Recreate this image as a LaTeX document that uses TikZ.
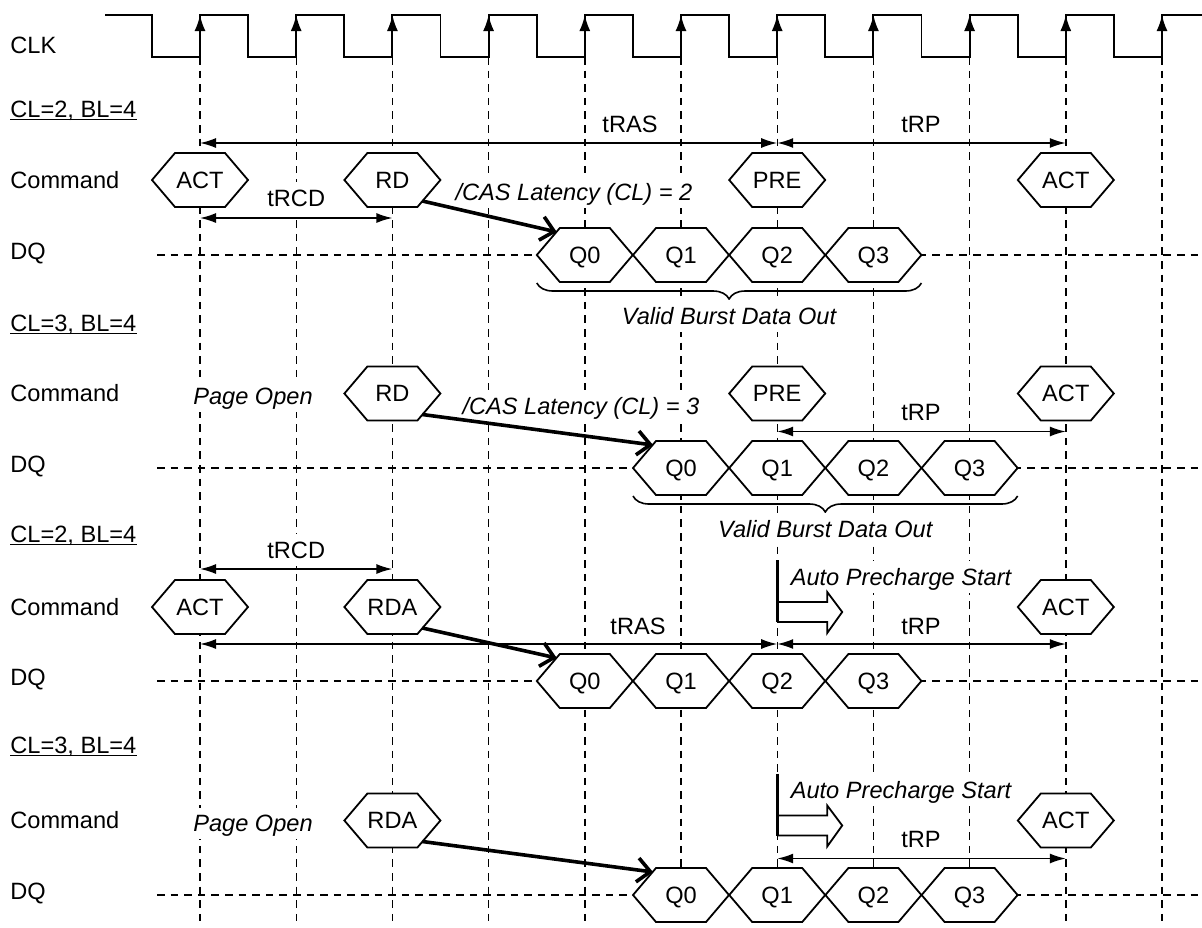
\documentclass[tikz,border=0pt]{standalone}
\usepackage{fontspec}
\setmainfont{Liberation Sans}
\usetikzlibrary{arrows.meta,calc,decorations.pathreplacing}

\newcommand\hexn[4]{% name, x, y, text
  \draw[hexline] (#2-48,#3) -- (#2-25,#3-27) -- (#2+25,#3-27) -- (#2+48,#3) -- (#2+25,#3+27) -- (#2-25,#3+27) -- cycle;
  \node[hextext] (#1) at (#2,#3) {#4};
}
\newcommand\apcs[2]{% x, command row y
  \draw[hexline] (#1,#2-5) -- (#1+50,#2-5) -- (#1+50,#2-15) -- (#1+65,#2+5) -- (#1+50,#2+26) -- (#1+50,#2+15) -- (#1,#2+15);
  \draw[line width=1.7pt] (#1,#2-47) -- (#1,#2+15);
}

\begin{document}
\begin{tikzpicture}[x=0.5pt,y=-0.5pt,
  font=\fontsize{11.8}{14}\selectfont,
  clk/.style={line width=0.95pt},
  grid/.style={line width=0.7pt, dash pattern=on 3.8pt off 3pt},
  hexline/.style={line width=0.9pt, fill=white, line join=miter},
  hextext/.style={inner sep=0pt, text height=10.5pt, text depth=2.1pt},
  lbl/.style={anchor=west, inner sep=0pt, text height=10.5pt, text depth=2.1pt},
  tlbl/.style={inner sep=1.5pt, fill=white, text height=10.5pt, text depth=2.1pt},
  ilbl/.style={tlbl, font=\fontsize{11.8}{14}\selectfont\itshape},
  uline/.style={line width=0.85pt},
  dim/.style={line width=0.8pt, {Latex[length=8pt,width=5pt]}-{Latex[length=8pt,width=5pt]}},
  lat/.style={line width=1.8pt, -{Straight Barb[length=6.5pt,width=12pt]}},
  brc/.style={line width=0.8pt, decorate, decoration={brace, mirror, amplitude=8pt}}
]
\useasboundingbox (0,0) rectangle (1202,927);

% timing grid
\foreach \i in {0,...,10} \draw[grid] ({200+96.2*\i},57) -- ({200+96.2*\i},923);
\foreach \y in {255,468,681,895} \draw[grid] (157,\y) -- (1202,\y);

% clock
\node[lbl] (clk) at (10,45) {CLK};
\draw[clk] (105,15) -- (151.9,15) -- (151.9,57)
  \foreach \i in {0,...,9}{ -- ({200+96.2*\i},57) -- ({200+96.2*\i},15) -- ({248.1+96.2*\i},15) -- ({248.1+96.2*\i},57) }
  -- (1162,57) -- (1162,15) -- (1202,15);
\foreach \i in {0,...,10} \draw[clk,-{Latex[length=8pt,width=5.5pt]}] ({200+96.2*\i},40) -- ({200+96.2*\i},15);

% ---------- section 1 ----------
\node[lbl] (s1) at (10,109) {CL=2, BL=4};
\draw[uline] ($(s1.base west)+(0,2)$) -- ($(s1.base east)+(0,2)$);
\node[lbl] (cmd1) at (10,180) {Command};
\node[lbl] (dq1) at (10,251) {DQ};
\coordinate (t1a) at (200,143);
\coordinate (t1b) at (777.2,143);
\coordinate (t1c) at (1065.8,143);
\draw[dim] (t1a) -- (t1b);
\draw[dim] (t1b) -- (t1c);
\node[tlbl] (tras1) at (630,124) {tRAS};
\node[tlbl] (trp1) at (921,124) {tRP};
\coordinate (c1a) at (200,218);
\coordinate (c1b) at (392.4,218);
\draw[dim] (c1a) -- (c1b);
\node[tlbl] (trcd1) at (296.2,198) {tRCD};
\node[ilbl] (cas1) at (574,192) {/CAS Latency (CL) = 2};
\hexn{acta1}{200}{180}{ACT}
\hexn{rd1}{392.4}{180}{RD}
\hexn{pre1}{777.2}{180}{PRE}
\hexn{actb1}{1065.8}{180}{ACT}
\hexn{qa1}{584.8}{255}{Q0}
\hexn{qb1}{681}{255}{Q1}
\hexn{qc1}{777.2}{255}{Q2}
\hexn{qd1}{873.4}{255}{Q3}
\draw[lat] ($(rd1)+(30,21)$) -- ($(qa1)+(-28,-23)$);
\draw[brc] ($(qa1)+(-48,28)$) -- ($(qd1)+(48,28)$);
\node[ilbl] (vb1) at (729,316) {Valid Burst Data Out};

% ---------- section 2 ----------
\node[lbl] (s2) at (10,323) {CL=3, BL=4};
\draw[uline] ($(s2.base west)+(0,2)$) -- ($(s2.base east)+(0,2)$);
\node[lbl] (cmd2) at (10,393.5) {Command};
\node[lbl] (dq2) at (10,464) {DQ};
\node[ilbl] (po2) at (253,396.5) {Page Open};
\coordinate (p2a) at (777.2,431.5);
\coordinate (p2b) at (1065.8,431.5);
\draw[dim] (p2a) -- (p2b);
\node[tlbl] (trp2) at (921,412.5) {tRP};
\node[ilbl] (cas2) at (581,406) {/CAS Latency (CL) = 3};
\hexn{rd2}{392.4}{393.5}{RD}
\hexn{pre2}{777.2}{393.5}{PRE}
\hexn{act2}{1065.8}{393.5}{ACT}
\hexn{qa2}{681}{468}{Q0}
\hexn{qb2}{777.2}{468}{Q1}
\hexn{qc2}{873.4}{468}{Q2}
\hexn{qd2}{969.6}{468}{Q3}
\draw[lat] ($(rd2)+(30,21)$) -- ($(qa2)+(-28,-23)$);
\draw[brc] ($(qa2)+(-48,28)$) -- ($(qd2)+(48,28)$);
\node[ilbl] (vb2) at (825.3,529) {Valid Burst Data Out};

% ---------- section 3 ----------
\node[lbl] (s3) at (10,534) {CL=2, BL=4};
\draw[uline] ($(s3.base west)+(0,2)$) -- ($(s3.base east)+(0,2)$);
\node[lbl] (cmd3) at (10,607) {Command};
\node[lbl] (dq3) at (10,677) {DQ};
\coordinate (c3a) at (200,569);
\coordinate (c3b) at (392.4,569);
\draw[dim] (c3a) -- (c3b);
\node[tlbl] (trcd3) at (296.2,550) {tRCD};
\coordinate (t3a) at (200,644);
\coordinate (t3b) at (777.2,644);
\coordinate (t3c) at (1065.8,644);
\draw[dim] (t3a) -- (t3b);
\draw[dim] (t3b) -- (t3c);
\node[tlbl] (tras3) at (638,626) {tRAS};
\node[tlbl] (trp3) at (921,626) {tRP};
\node[ilbl] (aps3) at (901,577) {Auto Precharge Start};
\apcs{777.2}{607}
\hexn{acta3}{200}{607}{ACT}
\hexn{rda3}{392.4}{607}{RDA}
\hexn{actb3}{1065.8}{607}{ACT}
\hexn{qa3}{584.8}{681}{Q0}
\hexn{qb3}{681}{681}{Q1}
\hexn{qc3}{777.2}{681}{Q2}
\hexn{qd3}{873.4}{681}{Q3}
\draw[lat] ($(rda3)+(30,21)$) -- ($(qa3)+(-28,-23)$);

% ---------- section 4 ----------
\node[lbl] (s4) at (10,745) {CL=3, BL=4};
\draw[uline] ($(s4.base west)+(0,2)$) -- ($(s4.base east)+(0,2)$);
\node[lbl] (cmd4) at (10,820.5) {Command};
\node[lbl] (dq4) at (10,891) {DQ};
\node[ilbl] (po4) at (253,823.5) {Page Open};
\coordinate (p4a) at (777.2,858.5);
\coordinate (p4b) at (1065.8,858.5);
\draw[dim] (p4a) -- (p4b);
\node[tlbl] (trp4) at (921,839.5) {tRP};
\node[ilbl] (aps4) at (901,790.5) {Auto Precharge Start};
\apcs{777.2}{820.5}
\hexn{rda4}{392.4}{820.5}{RDA}
\hexn{act4}{1065.8}{820.5}{ACT}
\hexn{qa4}{681}{895}{Q0}
\hexn{qb4}{777.2}{895}{Q1}
\hexn{qc4}{873.4}{895}{Q2}
\hexn{qd4}{969.6}{895}{Q3}
\draw[lat] ($(rda4)+(30,21)$) -- ($(qa4)+(-28,-23)$);
\end{tikzpicture}
\end{document}
